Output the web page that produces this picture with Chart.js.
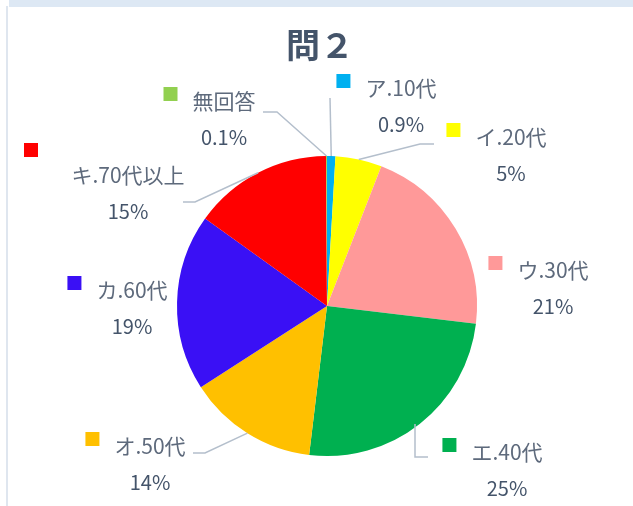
<!DOCTYPE html>
<html>
<head>
<meta charset="utf-8">
<script src="https://cdn.jsdelivr.net/npm/chart.js@4.4.1/dist/chart.umd.min.js"></script>
<style>
    body { margin: 0; background: #fff; }
    #wrap { position: relative; width: 633px; height: 506px; overflow: hidden; }
    #band { position: absolute; left: 9px; top: 0; width: 624px; height: 7px; background: #dde8f4; }
    #edge { position: absolute; left: 6px; top: 6px; width: 2px; height: 500px; background: #dfe6ef; }
    canvas { position: absolute; left: 0; top: 0; }
</style>
</head>
<body>
<div id="wrap">
    <canvas id="chart" width="633" height="506"></canvas>
    <div id="band"></div>
    <div id="edge"></div>
</div>
<script>
const titleText = "問２";
const categories = ["ア.10代", "イ.20代", "ウ.30代", "エ.40代", "オ.50代", "カ.60代", "キ.70代以上", "無回答"];
const values = [0.9, 5, 21, 25, 14, 19, 15, 0.1];
const colors = ["#00b0f0", "#ffff00", "#ff9999", "#00b050", "#ffc000", "#3a10f5", "#ff0000", "#92d050"];

// where each data label sits (centre of text, first line) + leader line bends
const labelLayout = [
    { x: 401, y: 88, line: [[330, 98]] },
    { x: 511, y: 137, line: [[420, 144], [434, 144]] },
    { x: 553, y: 270 },
    { x: 507, y: 452, line: [[415, 457], [428, 457]], fromX: 415 },
    { x: 150, y: 446, line: [[205, 453], [193, 453]] },
    { x: 132, y: 290 },
    { x: 128, y: 175, line: [[195, 202], [183, 202]], key: [24, 143] },
    { x: 224, y: 101, line: [[277, 112], [263, 112]] },
];

const FONT = '"Noto Sans CJK JP", "Noto Sans", sans-serif';

const pieLabels = {
    id: "pieLabels",
    afterDatasetsDraw(chart) {
        const ctx = chart.ctx;
        const meta = chart.getDatasetMeta(0);
        ctx.save();
        meta.data.forEach((arc, i) => {
            const lay = labelLayout[i];
            const mid = (arc.startAngle + arc.endAngle) / 2;
            let sx = arc.x + Math.cos(mid) * arc.outerRadius;
            const sy = arc.y + Math.sin(mid) * arc.outerRadius;
            if (lay.fromX) sx = lay.fromX;

            // leader line
            if (lay.line) {
                ctx.strokeStyle = "#b4bfcc";
                ctx.lineWidth = 1.5;
                ctx.beginPath();
                ctx.moveTo(sx, sy);
                lay.line.forEach((p) => ctx.lineTo(p[0], p[1]));
                ctx.stroke();
            }

            // category name
            ctx.font = "21px " + FONT;
            ctx.textBaseline = "middle";
            ctx.textAlign = "center";
            ctx.fillStyle = "#5e6a7c";
            const name = categories[i];
            const w = ctx.measureText(name).width;
            ctx.fillText(name, lay.x, lay.y);

            // legend key
            ctx.fillStyle = colors[i];
            if (lay.key) {
                ctx.fillRect(lay.key[0], lay.key[1], 14, 14);
            } else {
                ctx.fillRect(lay.x - w / 2 - 15 - 14, lay.y - 14, 14, 14);
            }

            // percentage
            ctx.font = "20px " + FONT;
            ctx.fillStyle = "#44546a";
            ctx.fillText(values[i] + "%", lay.x, lay.y + 36);
        });
        ctx.restore();
    },
    afterDraw(chart) {
        const ctx = chart.ctx;
        ctx.save();
        ctx.font = "bold 34px " + FONT;
        ctx.fillStyle = "#44546a";
        ctx.textAlign = "center";
        ctx.textBaseline = "middle";
        ctx.fillText(titleText, 320, 45);
        ctx.restore();
    },
};

new Chart(document.getElementById("chart"), {
    type: "pie",
    data: {
        labels: categories,
        datasets: [
            {
                data: values,
                backgroundColor: colors,
                borderWidth: 0,
            },
        ],
    },
    options: {
        responsive: false,
        animation: false,
        events: [],
        layout: {
            padding: {
                top: 156,
                bottom: 50,
                left: 177,
                right: 156,
            },
        },
        plugins: {
            legend: { display: false },
            tooltip: { enabled: false },
            title: { display: false },
        },
    },
    plugins: [pieLabels],
});
</script>
</body>
</html>
